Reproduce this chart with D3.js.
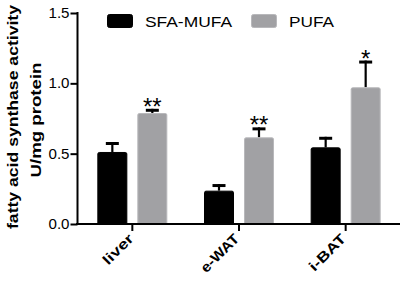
<!DOCTYPE html>
<html>
<head>
<meta charset="utf-8">
<title>fatty acid synthase</title>
<script src="https://cdn.jsdelivr.net/npm/d3@7"></script>
<style>
  body { margin: 0; background: #fff; }
  #wrap { position: relative; width: 403px; height: 283px; }
  text { font-family: Arial, "Liberation Sans", sans-serif; }
  .xlab { position: absolute; font: bold 14px Arial, "Liberation Sans", sans-serif; white-space: nowrap;
          transform-origin: 100% 100%; line-height: 14px; }
</style>
</head>
<body>
<div id="wrap"></div>
<script>
// data
var tissues = ["liver", "e-WAT", "i-BAT"]
var groups = ["SFA-MUFA", "PUFA"]
var sfaMufa = [0.512, 0.237, 0.545]
var sfaMufaErr = [0.071, 0.047, 0.075]
var pufa = [0.789, 0.616, 0.972]
var pufaErr = [0.03, 0.071, 0.19]
var stars = ["**", "**", "*"]   // over PUFA bars
var yTicks = [0, 0.5, 1.0, 1.5]

var w = 403, h = 283
var svg = d3.select("#wrap").append("svg").attr("width", w).attr("height", h)

var colors = {"SFA-MUFA": "#000000", "PUFA": "#a1a1a4"}
var strokes = {"SFA-MUFA": "#000000", "PUFA": "#b8b8bb"}

var y = d3.scaleLinear().domain([0, 1.5]).range([224, 13])
var x = d3.scaleBand().domain(tissues).range([79, 399]).padding(0)
var xs = d3.scaleBand().domain(groups).range([0, 70]).paddingInner(0.25)

var rows = []
tissues.forEach(function(t, i) {
  rows.push({t: t, g: "SFA-MUFA", v: sfaMufa[i], e: sfaMufaErr[i], s: ""})
  rows.push({t: t, g: "PUFA", v: pufa[i], e: pufaErr[i], s: stars[i]})
})
function bx(d) { return x(d.t) + x.bandwidth() / 2 - 35 + xs(d.g) }
function cx(d) { return bx(d) + xs.bandwidth() / 2 }

// error bars (upper only), drawn under bars
svg.selectAll(".err").data(rows).enter().append("line")
  .attr("x1", cx).attr("x2", cx)
  .attr("y1", function(d) { return y(d.v) }).attr("y2", function(d) { return y(d.v + d.e) })
  .attr("stroke", "#000").attr("stroke-width", 2.2)
svg.selectAll(".cap").data(rows).enter().append("line")
  .attr("x1", function(d) { return cx(d) - 6.5 }).attr("x2", function(d) { return cx(d) + 6.5 })
  .attr("y1", function(d) { return y(d.v + d.e) + 1.5 }).attr("y2", function(d) { return y(d.v + d.e) + 1.5 })
  .attr("stroke", "#000").attr("stroke-width", 3)

svg.selectAll(".bar").data(rows).enter().append("rect")
  .attr("x", function(d) { return bx(d) + 0.5 }).attr("width", xs.bandwidth() - 1)
  .attr("y", function(d) { return y(d.v) + 0.5 })
  .attr("height", function(d) { return y(0) - y(d.v) })
  .attr("rx", 1.5)
  .attr("fill", function(d) { return colors[d.g] })
  .attr("stroke", function(d) { return strokes[d.g] })

// significance stars
svg.selectAll(".star").data(rows.filter(function(d) { return d.s })).enter().append("text")
  .attr("x", cx).attr("y", function(d) { return y(d.v + d.e) + 6 })
  .attr("text-anchor", "middle").attr("font-size", 24)
  .text(function(d) { return d.s })

// y axis
var yAxis = svg.append("g").attr("transform", "translate(77.5,0)")
  .call(d3.axisLeft(y).tickValues(yTicks).tickFormat(d3.format(".1f")).tickSize(7).tickSizeOuter(0))
yAxis.select("path").attr("d", "M0,12V225")
yAxis.selectAll("path, line").attr("stroke", "#000").attr("stroke-width", 2)
yAxis.selectAll("text").attr("font-size", 14).attr("font-family", "Arial, sans-serif").attr("fill", "#000")
  .attr("x", -8).attr("textLength", 21).attr("lengthAdjust", "spacingAndGlyphs")

// x axis
var xAxis = svg.append("g").attr("transform", "translate(0,224)")
  .call(d3.axisBottom(x).tickSize(7).tickSizeOuter(0))
xAxis.select("path").attr("d", "M76,0H400").attr("stroke", "#000").attr("stroke-width", 2)
xAxis.selectAll("line").attr("stroke", "#000").attr("stroke-width", 2)
xAxis.selectAll("text").remove()

// slanted category labels as html, rotated with css
var labScale = {"liver": 1.28, "e-WAT": 1.13, "i-BAT": 1.26}
d3.select("#wrap").selectAll(".xlab").data(tissues).enter().append("div")
  .attr("class", "xlab")
  .text(function(d) { return d })
  .each(function(d) {
    var el = this, bw = el.getBoundingClientRect().width
    var ex = x(d) + x.bandwidth() / 2 + 3, ey = 241
    d3.select(el)
      .style("left", (ex - bw) + "px").style("top", (ey - 14) + "px")
      .style("transform", "rotate(-45deg) scaleX(" + labScale[d] + ")")
  })

// y title
svg.append("text").attr("transform", "translate(18,117) rotate(-90)")
  .attr("text-anchor", "middle").attr("font-size", 15).attr("font-weight", "bold")
  .attr("textLength", 224).attr("lengthAdjust", "spacingAndGlyphs")
  .text("fatty acid synthase activity")
svg.append("text").attr("transform", "translate(41,120) rotate(-90)")
  .attr("text-anchor", "middle").attr("font-size", 15).attr("font-weight", "bold")
  .attr("textLength", 115).attr("lengthAdjust", "spacingAndGlyphs")
  .text("U/mg protein")

// legend
var lx = [107, 251]
var legLen = [87, 45]
var leg = svg.selectAll(".leg").data(groups).enter().append("g")
  .attr("transform", function(d, i) { return "translate(" + lx[i] + ",14)" })
leg.append("rect").attr("x", 0.5).attr("y", 0.5).attr("width", 25).attr("height", 13).attr("rx", 2)
  .attr("fill", function(d) { return colors[d] }).attr("stroke", function(d) { return strokes[d] })
leg.append("text").attr("x", 38).attr("y", 12.5).attr("font-size", 15)
  .attr("textLength", function(d, i) { return legLen[i] }).attr("lengthAdjust", "spacingAndGlyphs")
  .text(function(d) { return d })
</script>
</body>
</html>
